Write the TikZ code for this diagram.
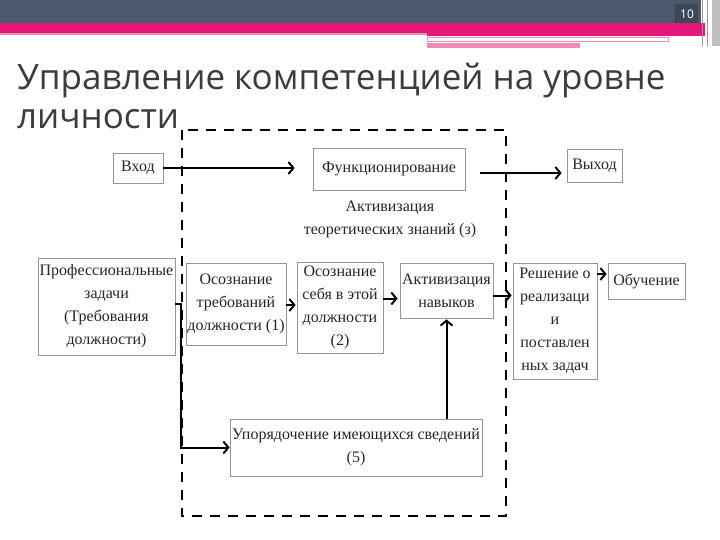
\documentclass[tikz,border=0pt]{standalone}
\usepackage{fontspec}
\setmainfont{Liberation Serif}
\newfontfamily\titlefont{Open Sans}
\usetikzlibrary{arrows.meta}
\definecolor{slate}{RGB}{76,89,109}
\definecolor{hotpink}{RGB}{228,24,120}
\definecolor{lightpink}{RGB}{238,140,180}
\definecolor{boxgray}{RGB}{150,150,150}
\definecolor{titlegray}{RGB}{60,60,60}
\begin{document}
\begin{tikzpicture}[x=1pt,y=-1pt,
  box/.style={draw=boxgray, line width=0.7pt, fill=white, align=center,
    font=\fontsize{16}{23}\selectfont, inner sep=1pt, text=black!85},
  arr/.style={line width=2pt, -{Straight Barb[length=5pt,width=12pt]}},
  frame/.style={line width=2.6pt, dash pattern=on 10pt off 8pt},
  plain/.style={font=\fontsize{16}{23}\selectfont, align=center, text=black!85}]
\useasboundingbox (0,0) rectangle (720,540);
% header
\fill[white] (0,0) rectangle (720,540);
\fill[slate] (0,0) rectangle (701,23);
\fill[hotpink] (0,23) rectangle (705,33);
\fill[lightpink] (0,33) rectangle (705,35.5);
\fill[hotpink] (427,33) rectangle (705,36);
\draw[lightpink, line width=1pt, fill=white] (427,37.5) rectangle (668,42);
\fill[lightpink] (427,43) rectangle (580,48);
\fill[black!25] (712,0) rectangle (720,46);
\draw[black!40, line width=1pt] (702,0) -- (702,46) (707,0) -- (707,46);
\fill[slate!80!black] (675,4) rectangle (698,23);
\node[text=white, font=\titlefont\fontsize{12}{12}\selectfont] (pnum) at (687,14) {10};
% title
\node[anchor=base west, inner sep=0, text=titlegray, font=\titlefont\fontsize{35}{40}\selectfont] (t1) at (17,90) {Управление компетенцией на уровне};
\node[anchor=base west, inner sep=0, text=titlegray, font=\titlefont\fontsize{35}{40}\selectfont] (t2) at (17,129) {личности};
% dashed frame
\draw[frame] (182,130) rectangle (506,516);
% boxes
\node[box, minimum width=50pt, minimum height=30pt] (vhod) at (138,168) {Вход};
\node[box, minimum width=152pt, minimum height=42pt] (func) at (389,169) {Функционирование};
\node[box, minimum width=55pt, minimum height=33pt] (vyhod) at (594.5,165.5) {Выход};
\node[plain] (teor) at (390,219) {Активизация\\теоретических знаний (з)};
\node[box, minimum width=137pt, minimum height=97pt] (prof) at (106.5,306.5) {Профессиональные\\задачи\\(Требования\\должности)};
\node[box, minimum width=100pt, minimum height=82pt] (os1) at (236,304) {Осознание\\требований\\должности (1)};
\node[box, minimum width=86pt, minimum height=91pt] (os2) at (340,307.5) {Осознание\\себя в этой\\должности\\(2)};
\node[box, minimum width=93pt, minimum height=55pt] (akt) at (446.5,290.5) {Активизация\\навыков};
\node[box, minimum width=84pt, minimum height=116pt] (resh) at (555,321) {Решение о\\реализаци\\и\\поставлен\\ных задач};
\node[box, minimum width=77pt, minimum height=36pt] (obuch) at (646.5,281) {Обучение};
\node[box, minimum width=252pt, minimum height=57pt] (upor) at (356,447.5) {Упорядочение имеющихся сведений\\(5)};
% connectors
\draw[arr, shorten >=18pt] (vhod.east) -- (vhod.east -| func.west);
\draw[arr, shorten <=15pt, shorten >=5pt] ([yshift=-4pt]func.east) -- ([yshift=-4pt]func.east -| vyhod.west);
\draw[arr] ([yshift=3pt]prof.east) -- ++(6,0) |- (upor.west);
\draw[arr, shorten >=1pt] ([yshift=-1pt]os1.east) -- ([yshift=-1pt]os1.east -| os2.west);
\draw[arr, shorten >=2pt] ([yshift=9pt]os2.east) -- ([yshift=9pt]os2.east -| akt.west);
\draw[arr, shorten >=1pt] ([yshift=-5pt]akt.east) -- ([yshift=-5pt]akt.east -| resh.west);
\draw[arr, shorten >=1pt] (obuch.west -| resh.east) ++(0,-7) coordinate (rs) -- (rs -| obuch.west);
\draw[arr, shorten >=1pt] (akt.south |- upor.north) -- (akt.south);
\end{tikzpicture}
\end{document}
